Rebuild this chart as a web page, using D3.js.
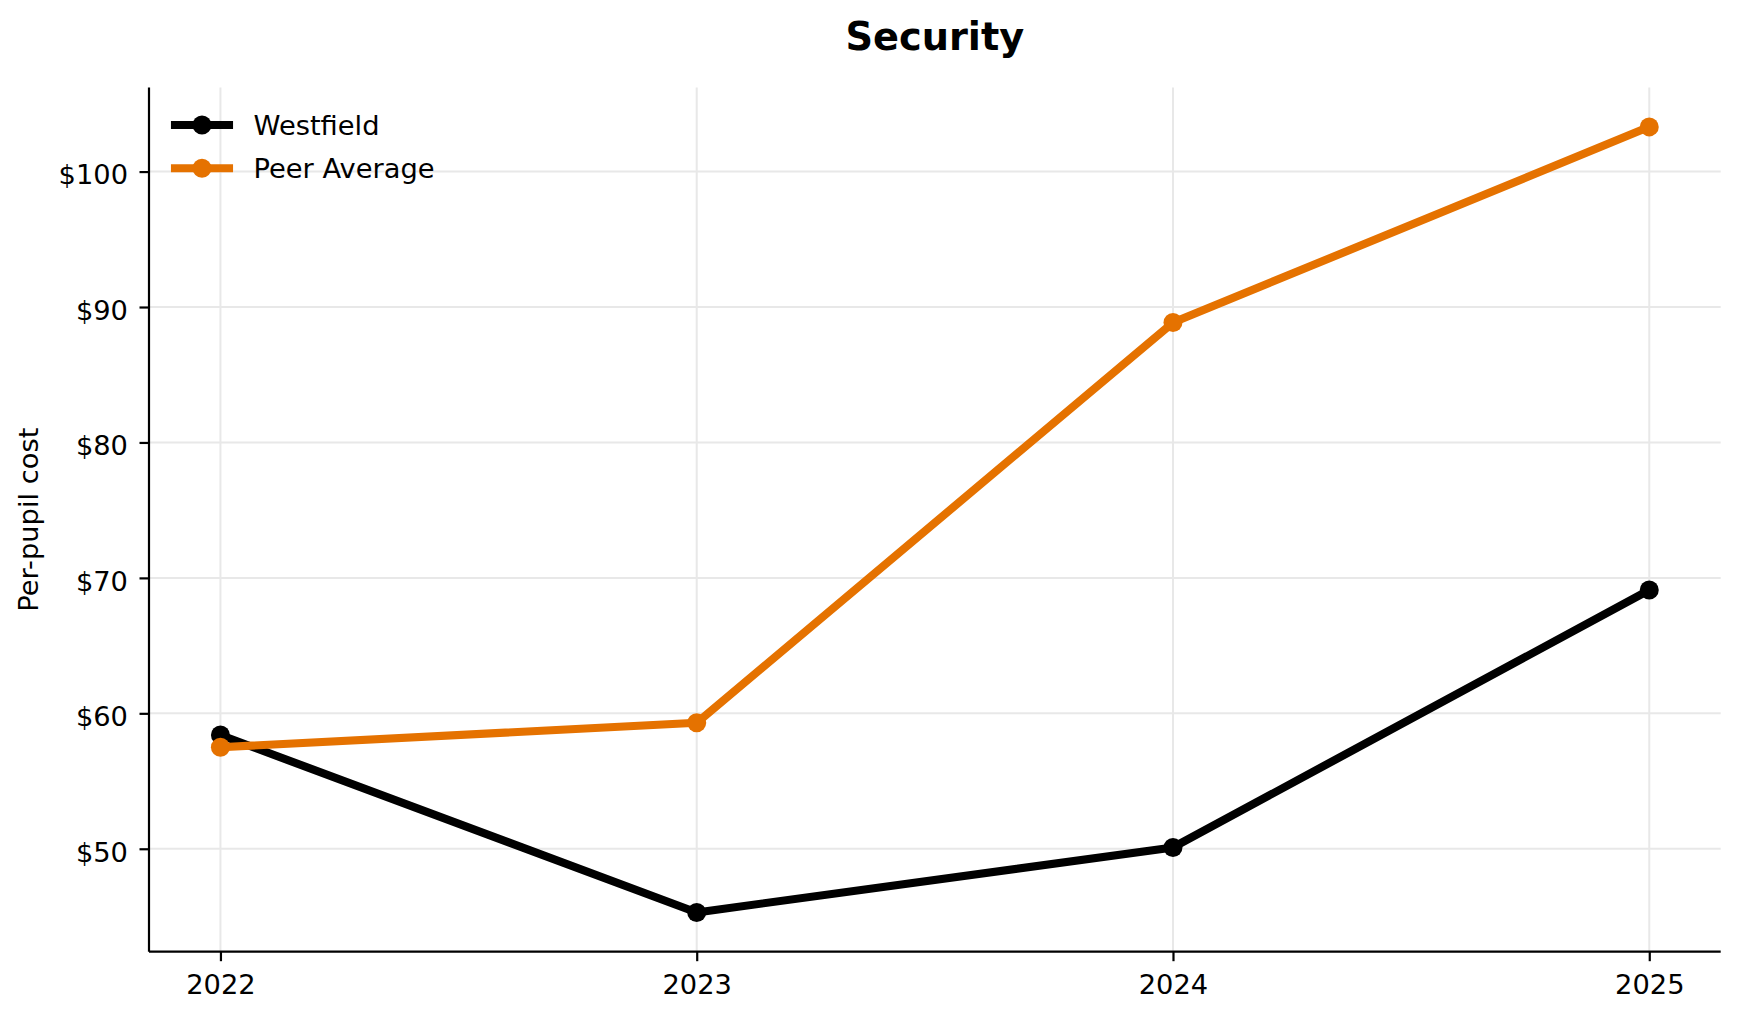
<!DOCTYPE html>
<html>
<head>
<meta charset="utf-8">
<script src="https://cdn.jsdelivr.net/npm/d3@7"></script>
<style>
  html, body { margin: 0; padding: 0; background: #ffffff; }
  svg { display: block; }
  text { font-family: "DejaVu Sans", sans-serif; fill: #000; }
</style>
</head>
<body>
<svg id="chart" width="1739" height="1019"></svg>
<script>
// ---- data ----
const years = [2022, 2023, 2024, 2025];
const westfield = [58.4, 45.3, 50.1, 69.1];
const peerAverage = [57.5, 59.3, 88.85, 103.3];
const seriesNames = ["Westfield", "Peer Average"];
const seriesColors = ["#000000", "#e57200"];
const yTickValues = [50, 60, 70, 80, 90, 100];
const chartTitle = "Security";
const yAxisLabel = "Per-pupil cost";

// ---- layout ----
const W = 1739, H = 1019;
const margin = { left: 149, right: W - 1720.7, top: 87.6, bottom: H - 951.7 };
const plotW = W - margin.left - margin.right;
const plotH = H - margin.top - margin.bottom;

const svg = d3.select("#chart");
const g = svg.append("g").attr("transform", `translate(${margin.left},${margin.top})`);

// x scale with 5% padding (matplotlib style)
const xMin = d3.min(years), xMax = d3.max(years);
const xPad = (xMax - xMin) * 0.05;
const x = d3.scaleLinear().domain([xMin - xPad, xMax + xPad]).range([0, plotW]);

const allVals = westfield.concat(peerAverage);
const yMin = d3.min(allVals), yMax = d3.max(allVals);
const yPad = (yMax - yMin) * 0.05;
const y = d3.scaleLinear().domain([yMin - yPad, yMax + yPad]).range([plotH, 0]);

// grid
const gridColor = "#e8e8e8";
g.append("g").selectAll("line.vg").data(years).join("line")
  .attr("x1", d => x(d)).attr("x2", d => x(d))
  .attr("y1", 0).attr("y2", plotH)
  .attr("stroke", gridColor).attr("stroke-width", 2);
g.append("g").selectAll("line.hg").data(yTickValues).join("line")
  .attr("x1", 0).attr("x2", plotW)
  .attr("y1", d => y(d)).attr("y2", d => y(d))
  .attr("stroke", gridColor).attr("stroke-width", 2);

// axes
const fontSize = 27.3;
const xAxis = d3.axisBottom(x).tickValues(years).tickFormat(d3.format("d"))
  .tickSize(9.5).tickPadding(9.5);
const xg = g.append("g").attr("transform", `translate(0,${plotH})`).call(xAxis);
xg.select(".domain").attr("stroke", "#000").attr("stroke-width", 2.2);
xg.selectAll(".tick line").attr("stroke", "#000").attr("stroke-width", 2.2);
xg.selectAll(".tick text").attr("font-size", fontSize).attr("font-family", "DejaVu Sans")
  .attr("fill", "#000").attr("dy", null).attr("y", 42.3);

const yAxis = d3.axisLeft(y).tickValues(yTickValues).tickFormat(d => "$" + d)
  .tickSize(9.5).tickPadding(9.5);
const yg = g.append("g").call(yAxis);
yg.select(".domain").attr("stroke", "#000").attr("stroke-width", 2.2);
yg.selectAll(".tick line").attr("stroke", "#000").attr("stroke-width", 2.2);
yg.selectAll(".tick text").attr("font-size", fontSize).attr("font-family", "DejaVu Sans")
  .attr("fill", "#000").attr("dy", null).attr("y", 12.3).attr("x", -21);

// remove domain end caps (outer ticks)
xg.select(".domain").attr("d", `M0,0H${plotW}`);
yg.select(".domain").attr("d", `M0,0V${plotH}`);

// lines
const seriesData = [westfield, peerAverage];
const lineGen = d3.line().x((d, i) => x(years[i])).y(d => y(d));
seriesData.forEach((vals, si) => {
  const sg = g.append("g");
  sg.append("path").datum(vals)
    .attr("d", lineGen)
    .attr("fill", "none")
    .attr("stroke", seriesColors[si])
    .attr("stroke-width", 8.1)
    .attr("stroke-linecap", "square")
    .attr("stroke-linejoin", "round");
  sg.selectAll("circle").data(vals).join("circle")
    .attr("cx", (d, i) => x(years[i]))
    .attr("cy", d => y(d))
    .attr("r", 9.5)
    .attr("fill", seriesColors[si]);
});

// legend
const legend = svg.append("g");
const legendRows = [125, 168.3];
seriesNames.forEach((name, i) => {
  const row = legend.append("g");
  row.append("line")
    .attr("x1", 175).attr("x2", 229)
    .attr("y1", legendRows[i]).attr("y2", legendRows[i])
    .attr("stroke", seriesColors[i]).attr("stroke-width", 8.1)
    .attr("stroke-linecap", "square");
  row.append("circle").attr("cx", 202).attr("cy", legendRows[i]).attr("r", 9.5)
    .attr("fill", seriesColors[i]);
  row.append("text").attr("x", 253.5).attr("y", legendRows[i] + 9.8)
    .attr("font-size", fontSize).text(name);
});

// title
svg.append("text").attr("x", margin.left + plotW / 2).attr("y", 49.5)
  .attr("text-anchor", "middle").attr("font-size", 38.3).attr("font-weight", "bold")
  .text(chartTitle);

// y label
svg.append("text")
  .attr("transform", `translate(38,${margin.top + plotH / 2}) rotate(-90)`)
  .attr("text-anchor", "middle").attr("font-size", fontSize)
  .text(yAxisLabel);
</script>
</body>
</html>
